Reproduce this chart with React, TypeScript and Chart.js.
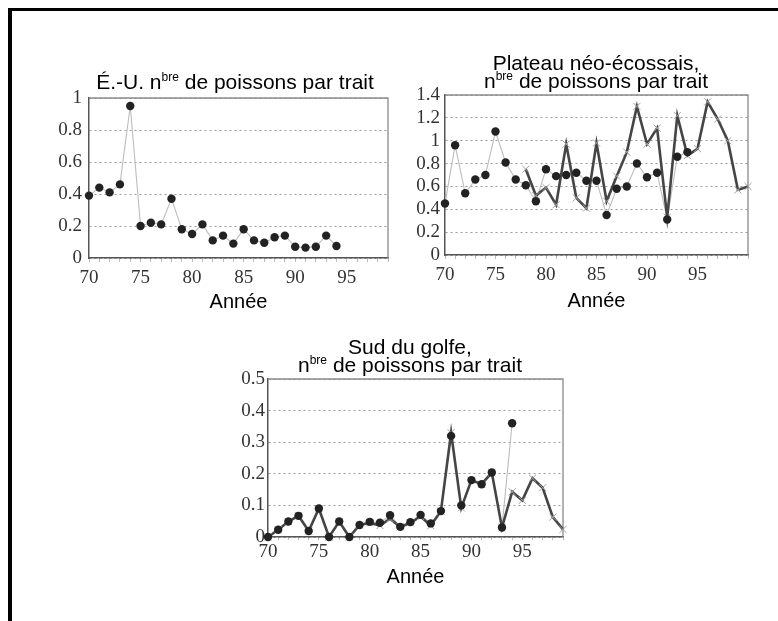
import React, { useEffect, useRef } from "react";
import { Chart, registerables } from "chart.js";

Chart.register(...registerables);

// ---------- data ----------
// É.-U. (circles only)
const usYears = [70, 71, 72, 73, 74, 75, 76, 77, 78, 79, 80, 81, 82, 83, 84, 85, 86, 87, 88, 89, 90, 91, 92, 93, 94];
const usCircles = [0.39, 0.44, 0.41, 0.46, 0.95, 0.2, 0.22, 0.21, 0.37, 0.18, 0.15, 0.21, 0.11, 0.14, 0.09, 0.18, 0.11, 0.095, 0.13, 0.14, 0.07, 0.065, 0.07, 0.14, 0.075];

// Plateau néo-écossais
const scotianCircleYears = [70, 71, 72, 73, 74, 75, 76, 77, 78, 79, 80, 81, 82, 83, 84, 85, 86, 87, 88, 89, 90, 91, 92, 93, 94];
const scotianCircles = [0.45, 0.96, 0.54, 0.66, 0.7, 1.08, 0.81, 0.66, 0.61, 0.47, 0.75, 0.69, 0.7, 0.72, 0.65, 0.65, 0.35, 0.58, 0.6, 0.8, 0.68, 0.72, 0.31, 0.86, 0.9];
const scotianCrossYears = [78, 79, 80, 81, 82, 83, 84, 85, 86, 87, 88, 89, 90, 91, 92, 93, 94, 95, 96, 97, 98, 99, 100];
const scotianCrosses = [0.75, 0.52, 0.59, 0.44, 0.97, 0.5, 0.41, 0.98, 0.47, 0.69, 0.9, 1.3, 0.97, 1.11, 0.33, 1.22, 0.87, 0.93, 1.34, 1.19, 1.0, 0.57, 0.6];

// Sud du golfe
const gulfCircleYears = [70, 71, 72, 73, 74, 75, 76, 77, 78, 79, 80, 81, 82, 83, 84, 85, 86, 87, 88, 89, 90, 91, 92, 93, 94];
const gulfCircles = [0, 0.023, 0.049, 0.067, 0.019, 0.09, 0, 0.049, 0, 0.038, 0.048, 0.045, 0.069, 0.032, 0.047, 0.07, 0.043, 0.082, 0.32, 0.1, 0.18, 0.167, 0.204, 0.03, 0.36];
const gulfCrossYears = [70, 71, 72, 73, 74, 75, 76, 77, 78, 79, 80, 81, 82, 83, 84, 85, 86, 87, 88, 89, 90, 91, 92, 93, 94, 95, 96, 97, 98, 99];
const gulfCrosses = [0, 0.023, 0.049, 0.067, 0.019, 0.09, 0, 0.049, 0, 0.038, 0.045, 0.036, 0.058, 0.032, 0.045, 0.065, 0.036, 0.082, 0.33, 0.092, 0.18, 0.167, 0.204, 0.03, 0.143, 0.116, 0.186, 0.156, 0.063, 0.024];

// tick labels
const xLabelYears = [70, 75, 80, 85, 90, 95];
const usYTicks = [0, 0.2, 0.4, 0.6, 0.8, 1];
const scotianYTicks = [0, 0.2, 0.4, 0.6, 0.8, 1, 1.2, 1.4];
const gulfYTicks = [0, 0.1, 0.2, 0.3, 0.4, 0.5];

// titles (^{...} = superscript)
const usTitle = ["É.-U. n^{bre} de poissons par trait"];
const scotianTitle = ["Plateau néo-écossais,", "n^{bre} de poissons par trait"];
const gulfTitle = ["Sud du golfe,", "n^{bre} de poissons par trait"];
const xAxisTitle = "Année";

// ---------- styles ----------
const SANS = "'Liberation Sans', Arial, sans-serif";
const SERIF = "'Liberation Serif', 'Times New Roman', serif";
const TICK_SIZE = 19;
const DARK_LINE = "#454545";
const LIGHT_LINE = "#bdbdbd";
const DOT = "#222222";
const CROSS = "#a0a0a0";

const toXY = (xs: number[], ys: number[]) => xs.map((x, i) => ({ x, y: ys[i] }));

const panelTitlePlugin = {
  id: "panelTitle",
  afterDraw(chart: any, _args: any, opts: any) {
    if (!opts || !opts.lines) return;
    const ctx = chart.ctx;
    const size = opts.size;
    const supSize = Math.round(size * 0.58);
    ctx.save();
    ctx.fillStyle = opts.color || "#000";
    ctx.textBaseline = "alphabetic";
    ctx.textAlign = "left";
    opts.lines.forEach((line: string, i: number) => {
      const parts = line.split(/\^\{([^}]*)\}/);
      let total = 0;
      const widths: number[] = [];
      parts.forEach((p: string, k: number) => {
        ctx.font = `${k % 2 ? supSize : size}px ${SANS}`;
        const w = ctx.measureText(p).width;
        widths.push(w);
        total += w;
      });
      let x = opts.cx - total / 2;
      const y = opts.baselines[i];
      parts.forEach((p: string, k: number) => {
        ctx.font = `${k % 2 ? supSize : size}px ${SANS}`;
        ctx.fillText(p, x, k % 2 ? y - size * 0.36 : y);
        x += widths[k];
      });
    });
    ctx.restore();
  },
};

const plotFramePlugin = {
  id: "plotFrame",
  beforeDatasetsDraw(chart: any) {
    const { left, top, right, bottom } = chart.chartArea;
    const ctx = chart.ctx;
    ctx.save();
    ctx.strokeStyle = "#8a8a8a";
    ctx.lineWidth = 1.3;
    ctx.beginPath();
    ctx.moveTo(left, top);
    ctx.lineTo(right, top);
    ctx.lineTo(right, bottom);
    ctx.stroke();
    ctx.restore();
  },
};

type Box = { left: number; top: number; width: number; height: number };
type Area = { left: number; top: number; right: number; bottom: number };

type PanelProps = {
  box: Box;
  area: Area;
  title: string[];
  titleCx: number;
  titleBaselines: number[];
  xMax: number;
  yMax: number;
  yTicks: number[];
  circleYears: number[];
  circles: number[];
  crossYears?: number[];
  crosses?: number[];
  xTickLen: number;
  xTickPad: number;
  yTickPad: number;
  xTitlePad: number;
};

function Panel(p: PanelProps) {
  const ref = useRef<HTMLCanvasElement | null>(null);
  useEffect(() => {
    if (!ref.current) return;
    const datasets: any[] = [];
    datasets.push({
      label: "ligne claire",
      data: toXY(p.circleYears, p.circles),
      borderColor: LIGHT_LINE,
      borderWidth: 1.1,
      pointRadius: 0,
      tension: 0,
      order: 3,
      clip: false,
    });
    if (p.crossYears && p.crosses) {
      datasets.push({
        label: "croix",
        data: toXY(p.crossYears, p.crosses),
        borderColor: DARK_LINE,
        borderWidth: 2.6,
        pointStyle: "crossRot",
        pointRadius: 5,
        pointBorderColor: CROSS,
        pointBackgroundColor: CROSS,
        pointBorderWidth: 1,
        tension: 0,
        order: 2,
        clip: false,
      });
    }
    datasets.push({
      label: "cercles",
      data: toXY(p.circleYears, p.circles),
      showLine: false,
      pointRadius: 4.2,
      pointBackgroundColor: DOT,
      pointBorderColor: DOT,
      pointBorderWidth: 0,
      order: 1,
      clip: false,
    });

    const chart = new Chart(ref.current, {
      type: "line",
      data: { datasets },
      plugins: [plotFramePlugin, panelTitlePlugin],
      options: {
        animation: false,
        responsive: false,
        devicePixelRatio: 1,
        layout: {
          padding: {
            left: 0,
            top: p.area.top - p.box.top,
            right: p.box.left + p.box.width - p.area.right,
            bottom: 0,
          },
        },
        plugins: {
          legend: { display: false },
          title: { display: false },
          tooltip: { enabled: false },
          panelTitle: {
            lines: p.title,
            size: 21,
            color: "#000",
            cx: p.titleCx - p.box.left,
            baselines: p.titleBaselines.map((b) => b - p.box.top),
          },
        } as any,
        scales: {
          x: {
            type: "linear",
            min: 70,
            max: p.xMax,
            afterFit: (s: any) => {
              s.height = p.box.top + p.box.height - p.area.bottom;
            },
            afterBuildTicks: (s: any) => {
              const t: any[] = [];
              for (let v = 70; v <= p.xMax; v++) t.push({ value: v });
              s.ticks = t;
            },
            ticks: {
              autoSkip: false,
              maxRotation: 0,
              padding: p.xTickPad,
              color: "#333",
              font: { family: SERIF, size: TICK_SIZE },
              callback: (v: any) => (xLabelYears.includes(Number(v)) ? String(v) : ""),
            },
            grid: {
              display: true,
              drawOnChartArea: false,
              drawTicks: true,
              tickLength: p.xTickLen,
              color: "#bbbbbb",
            },
            border: { display: true, color: "#555", width: 1.5 },
            title: {
              display: true,
              text: xAxisTitle,
              color: "#000",
              font: { family: SANS, size: 20 },
              padding: { top: 0, bottom: p.xTitlePad },
            },
          },
          y: {
            type: "linear",
            min: 0,
            max: p.yMax,
            afterFit: (s: any) => {
              s.width = p.area.left - p.box.left;
            },
            afterBuildTicks: (s: any) => {
              s.ticks = p.yTicks.map((v) => ({ value: v }));
            },
            ticks: {
              autoSkip: false,
              padding: p.yTickPad,
              color: "#333",
              font: { family: SERIF, size: TICK_SIZE },
              callback: (v: any) => String(v),
            },
            grid: {
              display: true,
              drawOnChartArea: true,
              drawTicks: false,
              color: "#9a9a9a",
              lineWidth: 1,
            },
            border: { display: true, color: "#555", width: 1.5, dash: [2, 3] },
          },
        },
      } as any,
    });
    return () => chart.destroy();
  }, []);
  return (
    <canvas
      ref={ref}
      width={p.box.width}
      height={p.box.height}
      style={{ position: "absolute", left: p.box.left, top: p.box.top, width: p.box.width, height: p.box.height }}
    />
  );
}

export default function App() {
  return (
    <div style={{ position: "fixed", left: 0, top: 0, width: 778, height: 621, background: "#fff", overflow: "hidden" }}>
      <div
        style={{
          position: "absolute",
          left: 8,
          top: 8,
          right: -10,
          bottom: -10,
          borderTop: "3px solid #000",
          borderLeft: "4px solid #000",
        }}
      />
      <Panel
        box={{ left: 20, top: 55, width: 375, height: 265 }}
        area={{ left: 89, top: 98, right: 388, bottom: 258 }}
        title={usTitle}
        titleCx={235}
        titleBaselines={[89]}
        xMax={99}
        yMax={1}
        yTicks={usYTicks}
        circleYears={usYears}
        circles={usCircles}
        xTickLen={4}
        xTickPad={5}
        yTickPad={7}
        xTitlePad={6}
      />
      <Panel
        box={{ left: 395, top: 40, width: 383, height: 280 }}
        area={{ left: 445, top: 95, right: 748, bottom: 255 }}
        title={scotianTitle}
        titleCx={596}
        titleBaselines={[70, 88]}
        xMax={100}
        yMax={1.4}
        yTicks={scotianYTicks}
        circleYears={scotianCircleYears}
        circles={scotianCircles}
        crossYears={scotianCrossYears}
        crosses={scotianCrosses}
        xTickLen={4}
        xTickPad={5}
        yTickPad={5}
        xTitlePad={7}
      />
      <Panel
        box={{ left: 200, top: 325, width: 400, height: 275 }}
        area={{ left: 268, top: 379, right: 563, bottom: 537 }}
        title={gulfTitle}
        titleCx={410}
        titleBaselines={[354, 372]}
        xMax={99}
        yMax={0.5}
        yTicks={gulfYTicks}
        circleYears={gulfCircleYears}
        circles={gulfCircles}
        crossYears={gulfCrossYears}
        crosses={gulfCrosses}
        xTickLen={3}
        xTickPad={1}
        yTickPad={3}
        xTitlePad={11}
      />
    </div>
  );
}
